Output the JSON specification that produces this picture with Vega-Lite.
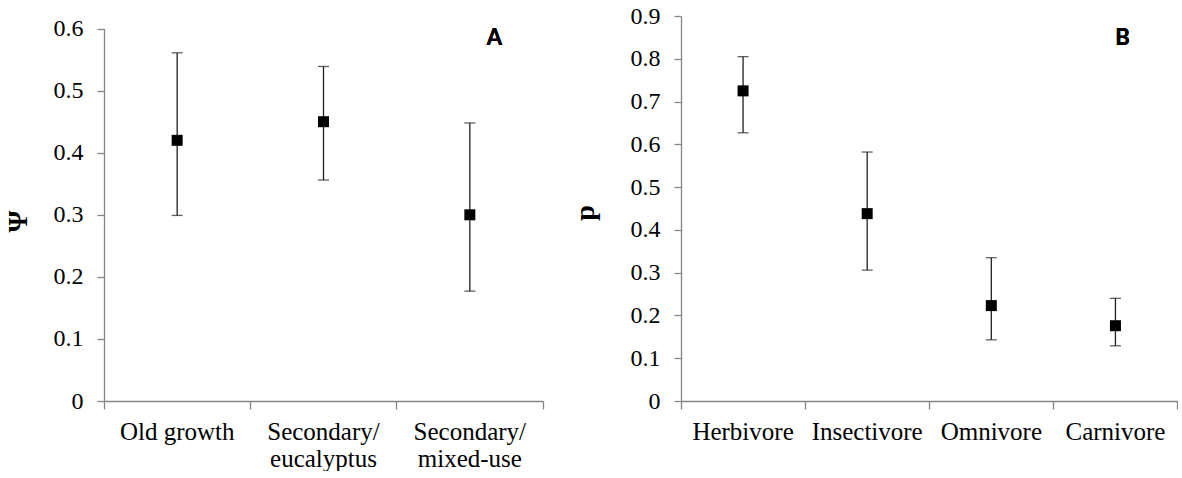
{
  "$schema": "https://vega.github.io/schema/vega-lite/v6.json",
  "background": "white",
  "padding": {"left": 4, "top": 4, "right": 0, "bottom": 0},
  "spacing": 138,
  "bounds": "flush",
  "config": {
    "view": {"stroke": null},
    "font": "Liberation Serif",
    "axis": {
      "grid": false,
      "domainColor": "#868686",
      "tickColor": "#868686",
      "domainWidth": 1.3,
      "tickWidth": 1.3,
      "labelColor": "#000000",
      "labelFont": "Liberation Serif",
      "titleFont": "Liberation Serif",
      "titleFontWeight": "bold",
      "titleColor": "#000000",
      "titleFontSize": 28
    },
    "axisX": {"labelFontSize": 25, "tickSize": 8, "labelPadding": 10, "labelAngle": 0, "labelLineHeight": 27, "bandPosition": 1, "tickExtra": true},
    "axisY": {"labelFontSize": 24, "tickSize": 7, "labelPadding": 14, "titleAngle": -90}
  },
  "datasets": {
    "habitat": [
      {"cat": "Old growth", "est": 0.42, "lo": 0.299, "hi": 0.561},
      {"cat": "Secondary/eucalyptus", "est": 0.45, "lo": 0.356, "hi": 0.539},
      {"cat": "Secondary/mixed-use", "est": 0.30, "lo": 0.177, "hi": 0.448}
    ],
    "diet": [
      {"cat": "Herbivore", "est": 0.725, "lo": 0.627, "hi": 0.805},
      {"cat": "Insectivore", "est": 0.438, "lo": 0.306, "hi": 0.582},
      {"cat": "Omnivore", "est": 0.223, "lo": 0.143, "hi": 0.335},
      {"cat": "Carnivore", "est": 0.176, "lo": 0.129, "hi": 0.240}
    ]
  },
  "hconcat": [
    {
      "width": 439,
      "height": 385,
      "data": {"name": "habitat"},
      "encoding": {
        "x": {
          "field": "cat", "type": "nominal", "sort": null,
          "scale": {"paddingInner": 0, "paddingOuter": 0},
          "axis": {"title": null, "labelExpr": "split(replace(datum.label, '/', '/\\n'), '\\n')"}
        }
      },
      "layer": [
        {
          "mark": {"type": "rule", "color": "#202020", "strokeWidth": 1.3},
          "encoding": {
            "y": {"field": "lo", "type": "quantitative",
              "scale": {"domain": [0, 0.6], "range": [385, 12.6], "nice": false, "zero": true},
              "axis": {"title": "Ψ", "titlePadding": 21, "titleY": 205, "values": [0, 0.1, 0.2, 0.3, 0.4, 0.5, 0.6], "format": ".1~f"}},
            "y2": {"field": "hi"}
          }
        },
        {
          "mark": {"type": "tick", "color": "#202020", "thickness": 1.3, "size": 11, "orient": "horizontal"},
          "encoding": {"y": {"field": "lo", "type": "quantitative"}}
        },
        {
          "mark": {"type": "tick", "color": "#202020", "thickness": 1.3, "size": 11, "orient": "horizontal"},
          "encoding": {"y": {"field": "hi", "type": "quantitative"}}
        },
        {
          "mark": {"type": "point", "shape": "square", "filled": true, "color": "#000000", "size": 121, "opacity": 1},
          "encoding": {"y": {"field": "est", "type": "quantitative"}}
        },
        {
          "mark": {"type": "text", "text": "A", "font": "Lato", "fontWeight": "bold", "fontSize": 22, "color": "#000000", "align": "center", "baseline": "middle", "dx": 24.5},
          "encoding": {
            "x": {"datum": "Secondary/mixed-use"},
            "y": {"datum": 0.585}
          }
        }
      ]
    },
    {
      "width": 496.5,
      "height": 385,
      "data": {"name": "diet"},
      "encoding": {
        "x": {
          "field": "cat", "type": "nominal", "sort": null,
          "scale": {"paddingInner": 0, "paddingOuter": 0},
          "axis": {"title": null}
        }
      },
      "layer": [
        {
          "mark": {"type": "rule", "color": "#202020", "strokeWidth": 1.3},
          "encoding": {
            "y": {"field": "lo", "type": "quantitative",
              "scale": {"domain": [0, 0.9], "nice": false, "zero": true},
              "axis": {"title": "p", "titlePadding": 31, "titleY": 196.5, "values": [0, 0.1, 0.2, 0.3, 0.4, 0.5, 0.6, 0.7, 0.8, 0.9], "format": ".1~f"}},
            "y2": {"field": "hi"}
          }
        },
        {
          "mark": {"type": "tick", "color": "#202020", "thickness": 1.3, "size": 11, "orient": "horizontal"},
          "encoding": {"y": {"field": "lo", "type": "quantitative"}}
        },
        {
          "mark": {"type": "tick", "color": "#202020", "thickness": 1.3, "size": 11, "orient": "horizontal"},
          "encoding": {"y": {"field": "hi", "type": "quantitative"}}
        },
        {
          "mark": {"type": "point", "shape": "square", "filled": true, "color": "#000000", "size": 121, "opacity": 1},
          "encoding": {"y": {"field": "est", "type": "quantitative"}}
        },
        {
          "mark": {"type": "text", "text": "B", "font": "Lato", "fontWeight": "bold", "fontSize": 22, "color": "#000000", "align": "center", "baseline": "middle", "dx": 7},
          "encoding": {
            "x": {"datum": "Carnivore"},
            "y": {"datum": 0.848}
          }
        }
      ]
    }
  ]
}
